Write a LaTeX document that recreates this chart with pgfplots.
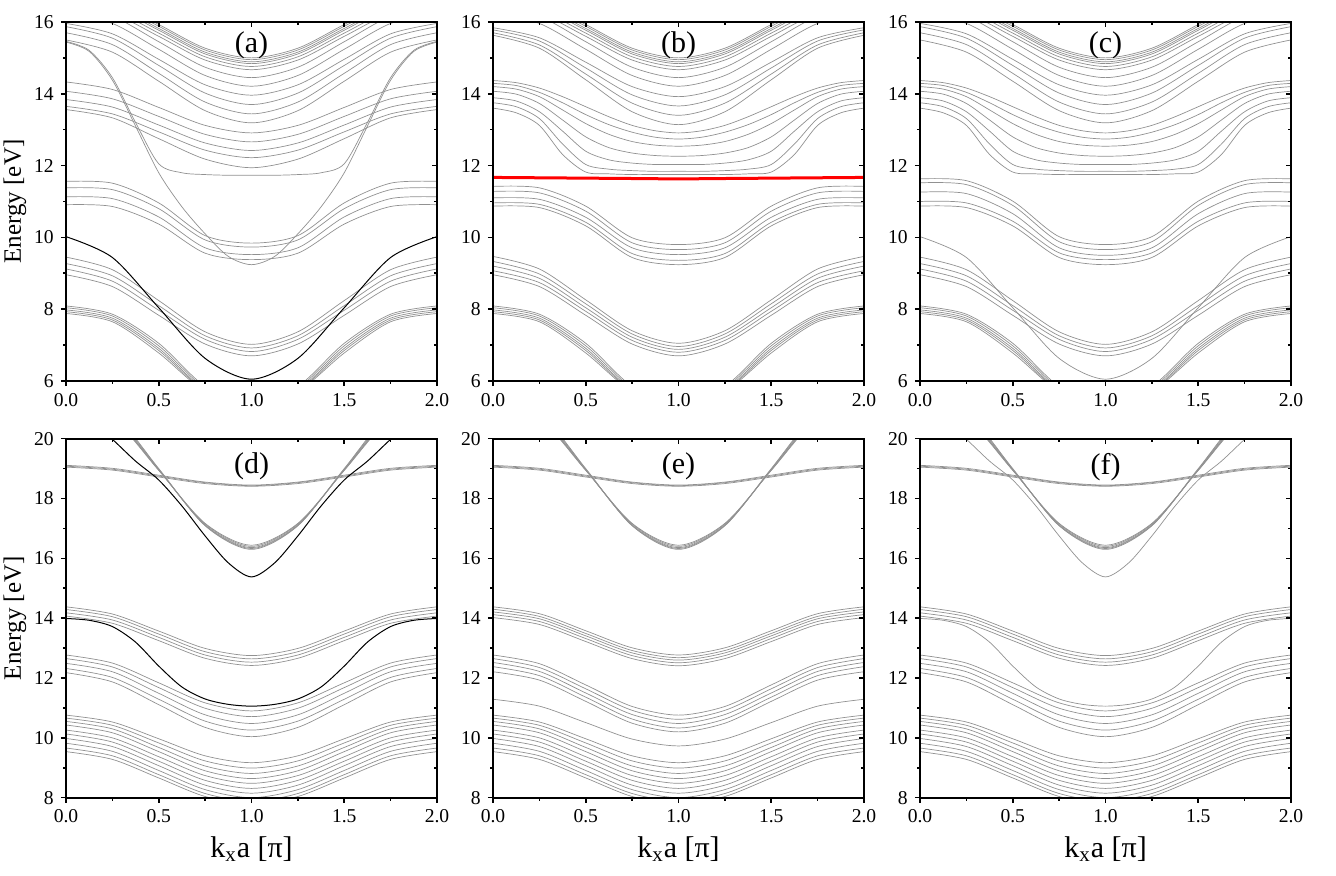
\documentclass[border=0pt]{standalone}
\usepackage{fontspec}
\setmainfont{Liberation Serif}
\usepackage{pgfplots}
\usepackage{pgfplotstable}
\pgfplotsset{compat=1.18}
\definecolor{bandgray}{RGB}{145,145,145}

% ---------- upper row: subbands E(k) for k = 0 ... 2 ----------
\pgfplotstableread{
k c1 c2 c3 c4 c5
0 8.09 8.04 7.98 7.93 7.88
0.25 7.86 7.81 7.75 7.70 7.65
0.5 7.05 6.98 6.91 6.85 6.78
0.75 5.85 5.80 5.75 5.72 5.70
1 5.40 5.35 5.30 5.28 5.25
1.25 5.85 5.80 5.75 5.72 5.70
1.5 7.05 6.98 6.91 6.85 6.78
1.75 7.86 7.81 7.75 7.70 7.65
2 8.09 8.04 7.98 7.93 7.88
}\tabA

\pgfplotstableread{
k c1 c2 c3 c4
0 9.45 9.27 9.12 8.96
0.25 9.10 8.93 8.78 8.63
0.5 8.24 8.10 7.97 7.83
0.75 7.37 7.26 7.16 7.03
1 7.02 6.92 6.82 6.70
1.25 7.37 7.26 7.16 7.03
1.5 8.24 8.10 7.97 7.83
1.75 9.10 8.93 8.78 8.63
2 9.45 9.27 9.12 8.96
}\tabB

\pgfplotstableread{
k c1 c2 c3 c4 c5
0 9.47 9.33 9.20 9.07 8.96
0.25 9.12 8.98 8.86 8.74 8.63
0.5 8.26 8.15 8.04 7.94 7.83
0.75 7.40 7.31 7.22 7.13 7.03
1 7.05 6.96 6.88 6.80 6.70
1.25 7.40 7.31 7.22 7.13 7.03
1.5 8.26 8.15 8.04 7.94 7.83
1.75 9.12 8.98 8.86 8.74 8.63
2 9.47 9.33 9.20 9.07 8.96
}\tabBb

\pgfplotstableread{
k c1
0 10.02
0.25 9.44
0.5 8.04
0.75 6.63
1 6.05
1.25 6.63
1.5 8.04
1.75 9.44
2 10.02
}\tabD

\pgfplotstableread{
k c1 c2 c3 c4
0 11.56 11.38 11.13 10.91
0.25 11.51 11.33 11.08 10.86
0.5 10.96 10.80 10.57 10.37
0.75 10.05 9.93 9.71 9.56
1 9.84 9.73 9.52 9.38
1.25 10.05 9.93 9.71 9.56
1.5 10.96 10.80 10.57 10.37
1.75 11.51 11.33 11.08 10.86
2 11.56 11.38 11.13 10.91
}\tabCa

\pgfplotstableread{
k c1 c2 c3 c4 c5
0 11.42 11.28 11.10 10.96 10.87
0.25 11.38 11.24 11.06 10.92 10.83
0.5 10.87 10.73 10.56 10.42 10.32
0.75 9.99 9.85 9.71 9.55 9.44
1 9.80 9.66 9.52 9.36 9.24
1.25 9.99 9.85 9.71 9.55 9.44
1.5 10.87 10.73 10.56 10.42 10.32
1.75 11.38 11.24 11.06 10.92 10.83
2 11.42 11.28 11.10 10.96 10.87
}\tabCb

\pgfplotstableread{
k c1 c2 c3 c4 c5
0 11.63 11.52 11.26 11.00 10.87
0.25 11.58 11.47 11.22 10.96 10.83
0.5 11.01 10.89 10.66 10.45 10.32
0.75 10.02 9.88 9.71 9.57 9.44
1 9.80 9.66 9.50 9.38 9.24
1.25 10.02 9.88 9.71 9.57 9.44
1.5 11.01 10.89 10.66 10.45 10.32
1.75 11.58 11.47 11.22 10.96 10.83
2 11.63 11.52 11.26 11.00 10.87
}\tabCc

\pgfplotstableread{
k c1 c2 c3 c4 c5 c6 c7 c8
0 16.85 16.80 16.74 16.69 16.61 16.52 16.45 16.26
0.25 16.58 16.53 16.47 16.42 16.34 16.25 16.16 15.96
0.5 15.93 15.88 15.82 15.77 15.69 15.60 15.45 15.24
0.75 15.27 15.22 15.16 15.11 15.03 14.94 14.74 14.51
1 15.00 14.95 14.89 14.84 14.76 14.67 14.45 14.21
1.25 15.27 15.22 15.16 15.11 15.03 14.94 14.74 14.51
1.5 15.93 15.88 15.82 15.77 15.69 15.60 15.45 15.24
1.75 16.58 16.53 16.47 16.42 16.34 16.25 16.16 15.96
2 16.85 16.80 16.74 16.69 16.61 16.52 16.45 16.26
}\tabT

\pgfplotstableread{
k c1 c2 c3 c4
0 15.96 15.87 15.70 15.50
0.25 15.67 15.55 15.37 15.16
0.5 14.96 14.79 14.57 14.35
0.75 14.25 14.02 13.77 13.53
1 13.96 13.70 13.44 13.19
1.25 14.25 14.02 13.77 13.53
1.5 14.96 14.79 14.57 14.35
1.75 15.67 15.55 15.37 15.16
2 15.96 15.87 15.70 15.50
}\tabFa

\pgfplotstableread{
k c1 c2 c3 c4
0 15.84 15.78 15.70 15.63
0.25 15.56 15.47 15.36 15.27
0.5 14.88 14.72 14.55 14.39
0.75 14.20 13.97 13.74 13.50
1 13.92 13.66 13.40 13.14
1.25 14.20 13.97 13.74 13.50
1.5 14.88 14.72 14.55 14.39
1.75 15.56 15.47 15.36 15.27
2 15.84 15.78 15.70 15.63
}\tabFb

\pgfplotstableread{
k c1 c2 c3 c4 c5
0 14.33 14.07 13.84 13.65 13.56
0.25 14.12 13.86 13.63 13.44 13.33
0.5 13.62 13.37 13.13 12.94 12.75
0.75 13.12 12.87 12.63 12.43 12.18
1 12.91 12.66 12.42 12.22 11.94
1.25 13.12 12.87 12.63 12.43 12.18
1.5 13.62 13.37 13.13 12.94 12.75
1.75 14.12 13.86 13.63 13.44 13.33
2 14.33 14.07 13.84 13.65 13.56
}\tabGa

\pgfplotstableread{
k c1 c2
0 15.44 15.46
0.125 15.18 15.21
0.25 14.38 14.45
0.375 13.10 13.20
0.5 11.80 12.05
0.625 10.85 11.80
0.75 10.10 11.75
0.875 9.47 11.73
1 9.24 11.73
1.125 9.47 11.73
1.25 10.10 11.75
1.375 10.85 11.80
1.5 11.80 12.05
1.625 13.10 13.20
1.75 14.38 14.45
1.875 15.18 15.21
2 15.44 15.46
}\tabSa

\pgfplotstableread{
k c1 c2 c3 c4 c5 c6 c7
0 14.37 14.29 14.20 14.07 13.89 13.75 13.60
0.125 14.31 14.23 14.13 13.99 13.80 13.64 13.47
0.25 14.16 14.04 13.92 13.73 13.50 13.31 13.12
0.375 13.92 13.75 13.55 13.27 12.96 12.60 12.31
0.5 13.64 13.42 13.17 12.80 12.40 12.03 11.82
0.625 13.36 13.14 12.87 12.50 12.16 11.90 11.77
0.75 13.12 12.93 12.67 12.35 12.07 11.86 11.75
0.875 12.97 12.79 12.57 12.28 12.03 11.84 11.75
1 12.91 12.74 12.54 12.26 12.03 11.84 11.75
1.125 12.97 12.79 12.57 12.28 12.03 11.84 11.75
1.25 13.12 12.93 12.67 12.35 12.07 11.86 11.75
1.375 13.36 13.14 12.87 12.50 12.16 11.90 11.77
1.5 13.64 13.42 13.17 12.80 12.40 12.03 11.82
1.625 13.92 13.75 13.55 13.27 12.96 12.60 12.31
1.75 14.16 14.04 13.92 13.73 13.50 13.31 13.12
1.875 14.31 14.23 14.13 13.99 13.80 13.64 13.47
2 14.37 14.29 14.20 14.07 13.89 13.75 13.60
}\tabGb

\pgfplotstableread{
k c1
0 11.67
0.25 11.66
0.5 11.65
0.75 11.64
1 11.63
1.25 11.64
1.5 11.65
1.75 11.66
2 11.67
}\tabRed

% ---------- lower row ----------
\pgfplotstableread{
k c1 c2 c3 c4 c5 c6 c7 c8 c9 c10
0 10.76 10.66 10.55 10.43 10.26 10.13 9.98 9.82 9.66 9.54
0.25 10.53 10.42 10.30 10.17 10.00 9.86 9.71 9.55 9.40 9.28
0.5 9.97 9.83 9.68 9.54 9.37 9.22 9.07 8.91 8.77 8.66
0.75 9.40 9.23 9.06 8.90 8.74 8.58 8.42 8.27 8.14 8.04
1 9.17 8.99 8.81 8.64 8.48 8.31 8.15 8.00 7.88 7.78
1.25 9.40 9.23 9.06 8.90 8.74 8.58 8.42 8.27 8.14 8.04
1.5 9.97 9.83 9.68 9.54 9.37 9.22 9.07 8.91 8.77 8.66
1.75 10.53 10.42 10.30 10.17 10.00 9.86 9.71 9.55 9.40 9.28
2 10.76 10.66 10.55 10.43 10.26 10.13 9.98 9.82 9.66 9.54
}\tabL

\pgfplotstableread{
k c1 c2 c3 c4 c5
0 12.77 12.65 12.49 12.32 12.18
0.25 12.50 12.37 12.21 12.02 11.87
0.5 11.84 11.68 11.49 11.29 11.11
0.75 11.17 10.99 10.77 10.56 10.35
1 10.90 10.71 10.48 10.26 10.04
1.25 11.17 10.99 10.77 10.56 10.35
1.5 11.84 11.68 11.49 11.29 11.11
1.75 12.50 12.37 12.21 12.02 11.87
2 12.77 12.65 12.49 12.32 12.18
}\tabM

\pgfplotstableread{
k c1 c2 c3 c4
0 14.38 14.29 14.18 14.07
0.25 14.14 14.05 13.94 13.83
0.5 13.57 13.47 13.36 13.25
0.75 12.99 12.88 12.77 12.66
1 12.75 12.64 12.53 12.42
1.25 12.99 12.88 12.77 12.66
1.5 13.57 13.47 13.36 13.25
1.75 14.14 14.05 13.94 13.83
2 14.38 14.29 14.18 14.07
}\tabN

\pgfplotstableread{
k c1 c2 c3 c4 c5
0 14.38 14.30 14.21 14.12 14.02
0.25 14.15 14.06 13.98 13.89 13.79
0.5 13.58 13.49 13.41 13.32 13.22
0.75 13.01 12.92 12.84 12.75 12.65
1 12.77 12.68 12.60 12.51 12.41
1.25 13.01 12.92 12.84 12.75 12.65
1.5 13.58 13.49 13.41 13.32 13.22
1.75 14.15 14.06 13.98 13.89 13.79
2 14.38 14.30 14.21 14.12 14.02
}\tabNe

\pgfplotstableread{
k c1 c2 c3 c4 c5 c6
0 12.77 12.65 12.52 12.38 12.21 11.29
0.25 12.48 12.35 12.22 12.08 11.93 11.06
0.5 11.77 11.64 11.50 11.36 11.22 10.51
0.75 11.05 10.92 10.78 10.63 10.49 9.96
1 10.76 10.62 10.48 10.33 10.20 9.73
1.25 11.05 10.92 10.78 10.63 10.49 9.96
1.5 11.77 11.64 11.50 11.36 11.22 10.51
1.75 12.48 12.35 12.22 12.08 11.93 11.06
2 12.77 12.65 12.52 12.38 12.21 11.29
}\tabMe

\pgfplotstableread{
k c1
0 13.99
0.125 13.93
0.25 13.72
0.375 13.20
0.5 12.40
0.625 11.70
0.75 11.30
0.875 11.12
1 11.06
1.125 11.12
1.25 11.30
1.375 11.70
1.5 12.40
1.625 13.20
1.75 13.72
1.875 13.93
2 13.99
}\tabSd

\pgfplotstableread{
k c1 c2 c3
0 19.11 19.08 19.05
0.25 19.01 18.98 18.95
0.5 18.78 18.75 18.72
0.75 18.55 18.53 18.50
1 18.45 18.43 18.41
1.25 18.55 18.53 18.50
1.5 18.78 18.75 18.72
1.75 19.01 18.98 18.95
2 19.11 19.08 19.05
}\tabW

\pgfplotstableread{
k c1 c2 c3 c4 c5
0 21.44 21.50 21.56 21.63 21.70
0.25 20.71 20.76 20.80 20.86 20.91
0.5 18.94 18.95 18.96 18.98 19.00
0.75 17.17 17.15 17.12 17.10 17.09
1 16.44 16.40 16.36 16.33 16.30
1.25 17.17 17.15 17.12 17.10 17.09
1.5 18.94 18.95 18.96 18.98 19.00
1.75 20.71 20.76 20.80 20.86 20.91
2 21.44 21.50 21.56 21.63 21.70
}\tabP

\pgfplotstableread{
k c1
0 21.30
0.125 20.65
0.25 19.98
0.375 19.25
0.5 18.62
0.625 17.75
0.75 16.75
0.875 15.85
1 15.38
1.125 15.85
1.25 16.75
1.375 17.75
1.5 18.62
1.625 19.25
1.75 19.98
1.875 20.65
2 21.30
}\tabPd

% draw every column of a band table with one style
\newcommand{\bands}[3]{\pgfplotsinvokeforeach{1,...,#3}{\addplot[#1] table[x index=0,y index=##1]{#2};}}

\pgfplotsset{
  panelbase/.style={
    scale only axis, width=185.5pt, height=179.5pt, anchor=south west,
    xmin=0, xmax=2, xtick={0,0.5,1,1.5,2},
    minor x tick num=1, minor y tick num=1,
    axis line style={line width=0.9pt, black},
    tick style={line width=0.8pt, black},
    major tick length=2.6pt, minor tick length=1.5pt,
    tick label style={font=\rmfamily\fontsize{9.8}{11}\selectfont},
    /pgf/number format/assume math mode=true,
    xticklabel style={/pgf/number format/fixed, /pgf/number format/fixed zerofill, /pgf/number format/precision=1},
    ylabel style={at={(axis description cs:-0.1375,0.5)}, anchor=center, font=\rmfamily\fontsize{12.5}{14}\selectfont},
    xlabel style={at={(axis description cs:0.5,-0.143)}, anchor=center, font=\rmfamily\fontsize{15}{17}\selectfont},
  },
  panel/.style={panelbase, tick align=outside, xtick pos=left, ytick pos=left},
  frame/.style={panelbase, tick align=inside, xtick pos=right, ytick pos=right, xticklabels={}, yticklabels={}},
  top row/.style={ymin=6, ymax=16, ytick={6,8,...,16}},
  bottom row/.style={ymin=8, ymax=20, ytick={8,10,...,20}},
  tag/.style 2 args={extra description/.code={\node[anchor=center, font=\rmfamily\fontsize{15}{17}\selectfont] at (0.5,#2) {#1};}},
  gb/.style={bandgray, line width=0.35pt, smooth},
  dk/.style={black, line width=0.5pt, smooth},
}

\begin{document}
\begin{tikzpicture}
\path[use as bounding box] (0,0) rectangle (668pt,438pt);

% (a)
\begin{axis}[panel, top row, at={(33pt,247.5pt)}, tag={(a)}{0.936}, ylabel={Energy [eV]}]
  \bands{gb}{\tabA}{5}
  \bands{gb}{\tabB}{4}
  \bands{gb}{\tabCa}{4}
  \bands{gb}{\tabT}{8}
  \bands{gb}{\tabFa}{4}
  \bands{gb}{\tabGa}{5}
  \bands{gb}{\tabSa}{2}
  \bands{dk}{\tabD}{1}
\end{axis}
\begin{axis}[frame, top row, at={(33pt,247.5pt)}]\end{axis}

% (b)
\begin{axis}[panel, top row, at={(246.5pt,247.5pt)}, tag={(b)}{0.936}]
  \bands{gb}{\tabA}{5}
  \bands{gb}{\tabBb}{5}
  \bands{gb}{\tabCb}{5}
  \bands{gb}{\tabT}{8}
  \bands{gb}{\tabFb}{4}
  \bands{gb}{\tabGb}{7}
  \addplot[red, line width=1.5pt, smooth] table[x index=0,y index=1]{\tabRed};
\end{axis}
\begin{axis}[frame, top row, at={(246.5pt,247.5pt)}]\end{axis}

% (c)
\begin{axis}[panel, top row, at={(460pt,247.5pt)}, tag={(c)}{0.936}]
  \bands{gb}{\tabA}{5}
  \bands{gb}{\tabB}{4}
  \bands{gb}{\tabD}{1}
  \bands{gb}{\tabCc}{5}
  \bands{gb}{\tabT}{8}
  \bands{gb}{\tabFa}{4}
  \bands{gb}{\tabGb}{7}
\end{axis}
\begin{axis}[frame, top row, at={(460pt,247.5pt)}]\end{axis}

% (d)
\begin{axis}[panel, bottom row, at={(33pt,39.15pt)}, tag={(d)}{0.922}, ylabel={Energy [eV]}, xlabel={k\textsubscript{x}a [π]}]
  \bands{gb}{\tabL}{10}
  \bands{gb}{\tabM}{5}
  \bands{gb}{\tabN}{4}
  \bands{gb}{\tabW}{3}
  \bands{gb}{\tabP}{5}
  \bands{dk}{\tabSd}{1}
  \bands{dk}{\tabPd}{1}
\end{axis}
\begin{axis}[frame, bottom row, at={(33pt,39.15pt)}]\end{axis}

% (e)
\begin{axis}[panel, bottom row, at={(246.5pt,39.15pt)}, tag={(e)}{0.922}, xlabel={k\textsubscript{x}a [π]}]
  \bands{gb}{\tabL}{10}
  \bands{gb}{\tabMe}{6}
  \bands{gb}{\tabNe}{5}
  \bands{gb}{\tabW}{3}
  \bands{gb}{\tabP}{5}
\end{axis}
\begin{axis}[frame, bottom row, at={(246.5pt,39.15pt)}]\end{axis}

% (f)
\begin{axis}[panel, bottom row, at={(460pt,39.15pt)}, tag={(f)}{0.922}, xlabel={k\textsubscript{x}a [π]}]
  \bands{gb}{\tabL}{10}
  \bands{gb}{\tabM}{5}
  \bands{gb}{\tabN}{4}
  \bands{gb}{\tabW}{3}
  \bands{gb}{\tabP}{5}
  \bands{gb}{\tabSd}{1}
  \bands{gb}{\tabPd}{1}
\end{axis}
\begin{axis}[frame, bottom row, at={(460pt,39.15pt)}]\end{axis}
\end{tikzpicture}
\end{document}
